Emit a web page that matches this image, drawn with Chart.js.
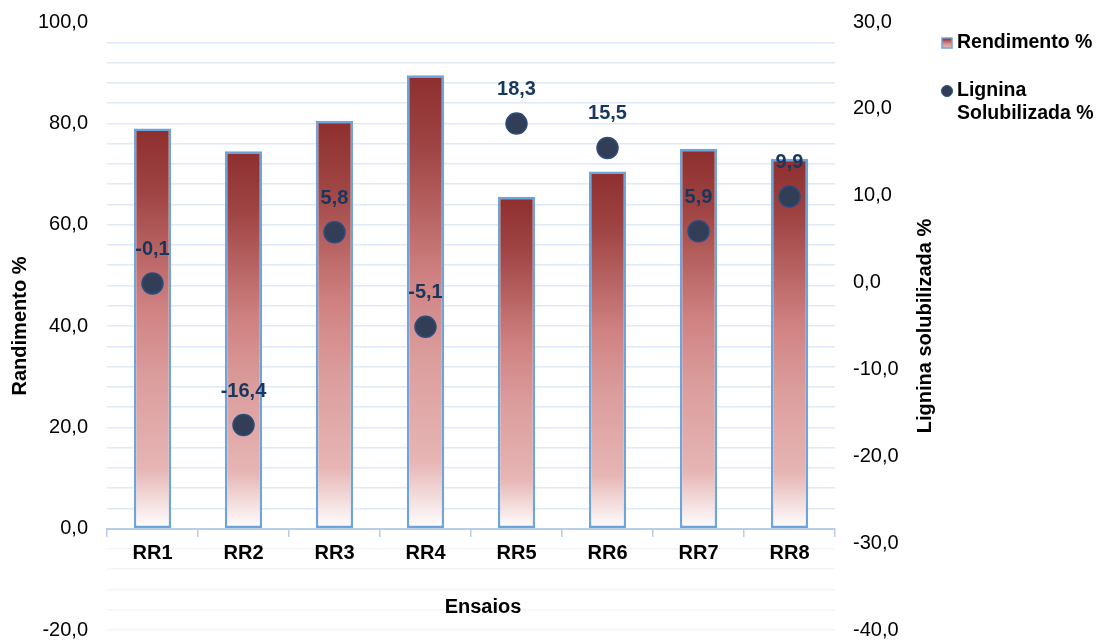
<!DOCTYPE html>
<html>
<head>
<meta charset="utf-8">
<script src="https://cdn.jsdelivr.net/npm/chart.js@4.4.1/dist/chart.umd.min.js"></script>
<style>
  html, body { margin: 0; padding: 0; background: #ffffff; }
  #wrap { width: 1099px; height: 642px; position: relative; }
</style>
</head>
<body>
<div id="wrap"><canvas id="chart" width="1099" height="642"></canvas></div>
<script>
// Ensaios (x categories)
const categories = ['RR1', 'RR2', 'RR3', 'RR4', 'RR5', 'RR6', 'RR7', 'RR8'];
// Rendimento % (left axis, bars)
const rendimento = [79.0, 74.5, 80.5, 89.5, 65.5, 70.5, 75.0, 73.0];
// Lignina solubilizada % (right axis, points)
const lignina = [-0.1, -16.4, 5.8, -5.1, 18.3, 15.5, 5.9, 9.9];
// Labelled tick values of each axis
const leftTicks = [-20, 0, 20, 40, 60, 80, 100];
const rightTicks = [-40, -30, -20, -10, 0, 10, 20, 30];

const FONT = "'Liberation Sans', Arial, Helvetica, sans-serif";
const fmt = v => v.toFixed(1).replace('.', ',');

function barGradient(ctx, top, base) {
  const g = ctx.createLinearGradient(0, top, 0, base);
  g.addColorStop(0.00, '#8E2F2F');
  g.addColorStop(0.15, '#9E4242');
  g.addColorStop(0.45, '#D08282');
  g.addColorStop(0.62, '#DB9C9C');
  g.addColorStop(0.85, '#E6B5B4');
  g.addColorStop(1.00, '#FFFFFF');
  return g;
}

// Titles, point value labels and the legend
const decorations = {
  id: 'decorations',
  afterDatasetsDraw(chart) {
    const c = chart.ctx;
    const meta = chart.getDatasetMeta(1);
    c.save();
    c.font = `bold 20px ${FONT}`;
    c.fillStyle = '#17375E';
    c.textAlign = 'center';
    c.textBaseline = 'middle';
    meta.data.forEach((pt, i) => {
      c.fillText(fmt(lignina[i]), pt.x, pt.y - 34);
    });
    c.restore();
  },
  afterDraw(chart) {
    const c = chart.ctx;
    const area = chart.chartArea;
    const midY = (area.top + area.bottom) / 2;
    c.save();
    c.fillStyle = '#000000';
    c.font = `bold 20px ${FONT}`;
    c.textAlign = 'center';
    c.textBaseline = 'middle';

    c.fillText('Ensaios', (area.left + area.right) / 2 + 12, 607);

    c.save();
    c.translate(20, midY);
    c.rotate(-Math.PI / 2);
    c.fillText('Randimento %', 0, 0);
    c.restore();

    c.save();
    c.translate(925, midY);
    c.rotate(-Math.PI / 2);
    c.fillText('Lignina solubilizada %', 0, 0);
    c.restore();

    // legend
    c.font = `bold 19.5px ${FONT}`;
    c.textAlign = 'left';
    c.fillStyle = barGradient(c, 38, 49);
    c.fillRect(942, 38, 10, 10);
    c.strokeStyle = '#6FA3DC';
    c.lineWidth = 1.5;
    c.strokeRect(942, 38, 10, 10);
    c.fillStyle = '#000000';
    c.fillText('Rendimento %', 957, 43);

    c.beginPath();
    c.arc(947, 91, 5.5, 0, Math.PI * 2);
    c.fillStyle = '#323E55';
    c.fill();
    c.strokeStyle = '#2B4C7E';
    c.lineWidth = 1;
    c.stroke();
    c.fillStyle = '#000000';
    c.fillText('Lignina', 957, 91);
    c.fillText('Solubilizada %', 957, 114);
    c.restore();
  }
};

new Chart(document.getElementById('chart'), {
  data: {
    labels: categories,
    datasets: [
      {
        type: 'bar',
        label: 'Rendimento %',
        data: rendimento,
        yAxisID: 'y',
        order: 1,
        categoryPercentage: 1,
        barPercentage: 0.41,
        borderColor: '#6FA3DC',
        borderWidth: 2.5,
        borderSkipped: false,
        backgroundColor: (ctx) => {
          const chart = ctx.chart;
          if (!chart.chartArea || ctx.type !== 'data') return '#C06A6A';
          const ys = chart.scales.y;
          const top = ys.getPixelForValue(ctx.raw);
          const base = ys.getPixelForValue(0);
          return barGradient(chart.ctx, top, base);
        }
      },
      {
        type: 'line',
        label: 'Lignina Solubilizada %',
        data: lignina,
        yAxisID: 'y2',
        order: 0,
        showLine: false,
        pointRadius: 10.5,
        pointHoverRadius: 10.5,
        pointBackgroundColor: '#323E55',
        pointBorderColor: '#2B4C7E',
        pointBorderWidth: 1.5
      }
    ]
  },
  options: {
    responsive: false,
    animation: false,
    events: [],
    layout: { padding: { top: 22, bottom: 12, left: 0, right: 159 } },
    plugins: { legend: { display: false }, tooltip: { enabled: false } },
    scales: {
      x: {
        position: { y: 0 },
        offset: true,
        grid: {
          offset: true,
          drawOnChartArea: false,
          drawTicks: true,
          tickLength: 7,
          color: '#B7CDE8',
          lineWidth: 1.5
        },
        border: { color: '#B7CDE8', width: 2 },
        ticks: {
          color: '#000000',
          font: { family: FONT, size: 20, weight: 'bold' },
          padding: 6,
          maxRotation: 0
        }
      },
      y: {
        position: 'left',
        min: leftTicks[0],
        max: leftTicks[leftTicks.length - 1],
        afterFit: s => { s.width = 107; },
        ticks: {
          stepSize: 4,
          autoSkip: false,
          maxTicksLimit: 100,
          padding: 0,
          color: '#000000',
          font: { family: FONT, size: 20 },
          callback: v => (leftTicks.includes(v) ? fmt(v) : '')
        },
        grid: {
          drawTicks: true,
          tickLength: 19,
          tickColor: 'rgba(0,0,0,0)',
          lineWidth: 1.5,
          color: ctx => {
            const v = ctx.tick ? ctx.tick.value : 0;
            if (v >= 100) return 'rgba(0,0,0,0)';
            if (v < 0) return '#F1F5FA';
            return '#E0EAF6';
          }
        },
        border: { display: false }
      },
      y2: {
        position: 'right',
        min: rightTicks[0],
        max: rightTicks[rightTicks.length - 1],
        afterFit: s => { s.width = 105; },
        ticks: {
          stepSize: 10,
          autoSkip: false,
          padding: 0,
          color: '#000000',
          font: { family: FONT, size: 20 },
          callback: v => (rightTicks.includes(v) ? fmt(v) : '')
        },
        grid: {
          drawOnChartArea: false,
          drawTicks: true,
          tickLength: 18,
          tickColor: 'rgba(0,0,0,0)'
        },
        border: { display: false }
      }
    }
  },
  plugins: [decorations]
});
</script>
</body>
</html>
